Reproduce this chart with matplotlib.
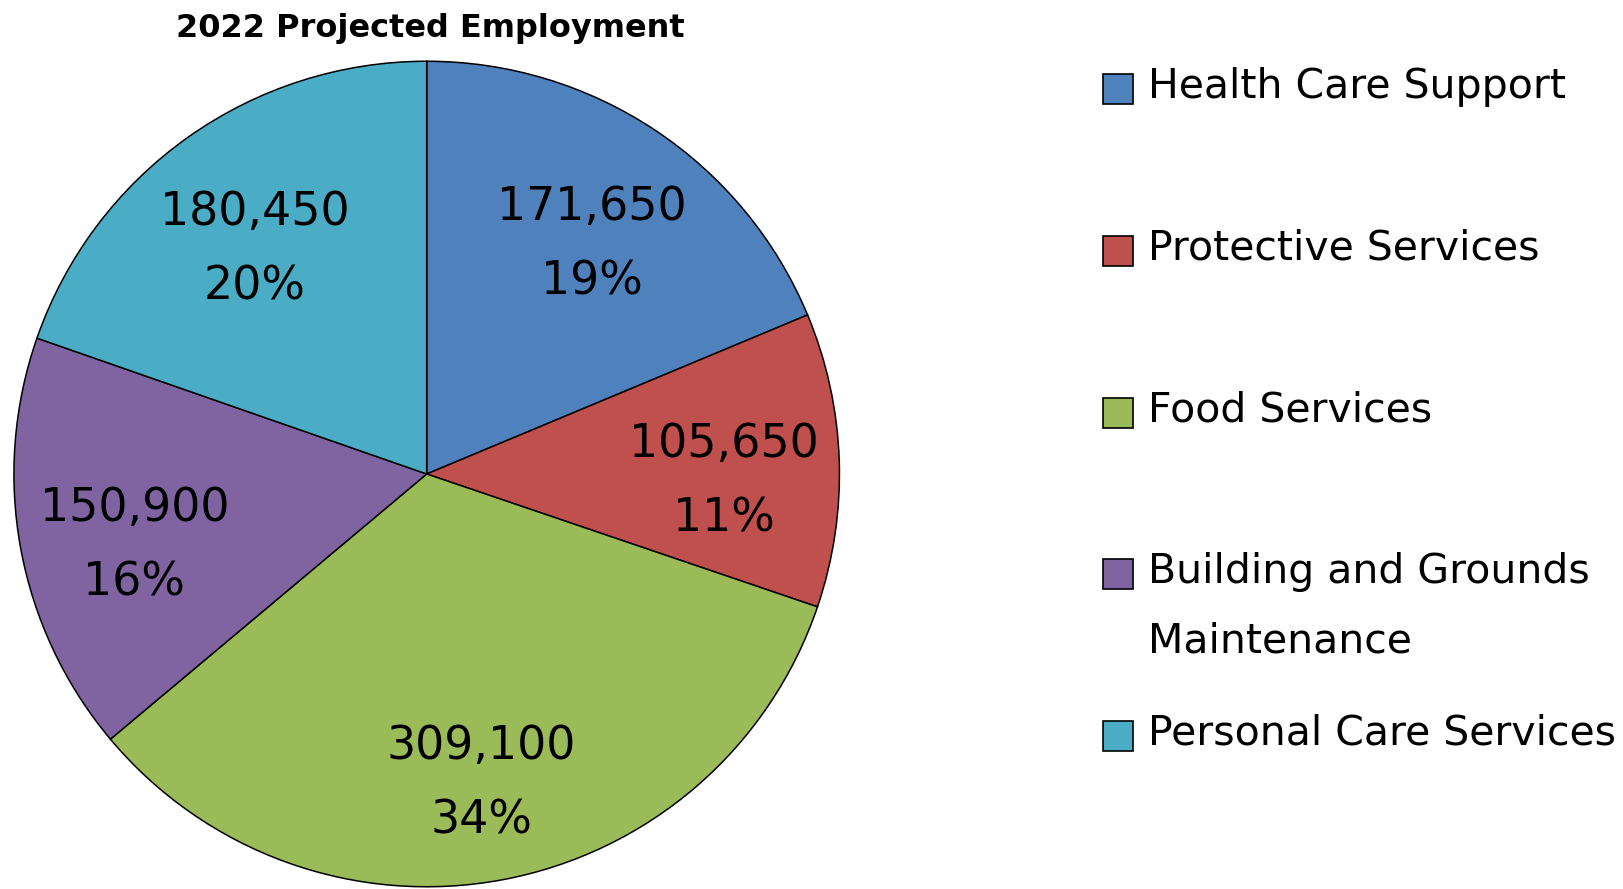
import matplotlib
matplotlib.use("Agg")
import matplotlib.pyplot as plt
from matplotlib import patches

# data
categories = ["Health Care Support", "Protective Services", "Food Services",
              "Building and Grounds\nMaintenance", "Personal Care Services"]
employment = [171650, 105650, 309100, 150900, 180450]
percent_shown = [19, 11, 34, 16, 20]   # as printed on the chart (rounded to sum 100)
colors = ["#4F81BD", "#C0504D", "#9BBB59", "#8064A2", "#4BACC6"]
title = "2022 Projected Employment"

plt.rcParams['font.family'] = ['DejaVu Sans']

W, H = 1623, 889
fig = plt.figure(figsize=(W / 100, H / 100), dpi=100)

# pie axes (pixel layout)
cx, cy, r = 426.7, 474, 414
ax = fig.add_axes([(cx - r) / W, (H - cy - r) / H, 2 * r / W, 2 * r / H])

wedges, texts, autotexts = ax.pie(
    employment, colors=colors, startangle=90, counterclock=False,
    autopct='%1.0f%%', pctdistance=0.72, radius=1,
    wedgeprops=dict(edgecolor="black", linewidth=1.1),
    textprops=dict(fontsize=33, color="black"))
for t, v, p in zip(autotexts, employment, percent_shown):
    t.set_text(f"{v:,}\n{p}%")
    t.set_linespacing(1.85)
    x, y = t.get_position()
    t.set_position((x, y - 18 / r))  # labels sit a bit lower in the original
ax.set_xlim(-1.003, 1.003)
ax.set_ylim(-1.003, 1.003)
ax.axis('off')

# overlay in pixel coords for title and legend
ov = fig.add_axes([0, 0, 1, 1])
ov.set_xlim(0, W)
ov.set_ylim(H, 0)
ov.axis('off')
ov.patch.set_alpha(0)

ov.text(430, 29, title, fontsize=23, fontweight='bold', ha='center', va='center')

row_gap = 161.6
base0 = 98.3
line_gap = 69
for i, (lab, col) in enumerate(zip(categories, colors)):
    base = base0 + i * row_gap
    ov.add_patch(patches.Rectangle((1103, base + 6 - 30), 30, 30,
                                   facecolor=col, edgecolor="black", linewidth=1.2))
    for k, line in enumerate(lab.split("\n")):
        ov.text(1148, base + k * line_gap, line, fontsize=29.5,
                ha='left', va='baseline')

fig.savefig("out.png", dpi=100)
